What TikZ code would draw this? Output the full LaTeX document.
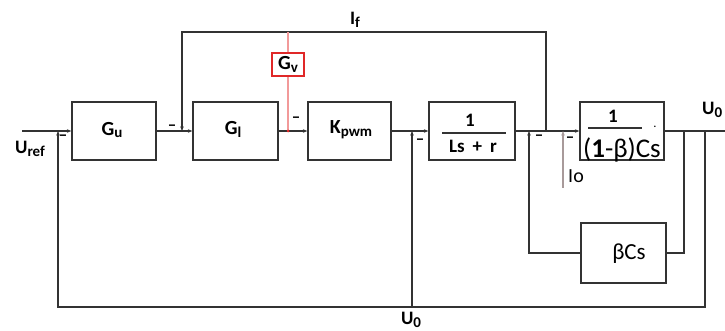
\documentclass[tikz,border=0pt]{standalone}
\usepackage{fontspec}
\setmainfont{Carlito}
\usetikzlibrary{arrows.meta}
\definecolor{linec}{HTML}{333333}
\definecolor{gvred}{HTML}{E02828}
\definecolor{gvline}{HTML}{F29A9A}
\definecolor{ioc}{HTML}{A89A9A}
\newcommand\sbx[1]{\raisebox{-0.3ex}{\fontsize{15}{15}\selectfont #1}}
\begin{document}
\begin{tikzpicture}[x=1pt,y=-1pt,
  blk/.style={draw=linec,line width=1.3pt,minimum width=84pt,minimum height=58pt,inner sep=0pt,fill=white},
  wire/.style={draw=linec,line width=1.3pt},
  arr/.style={-{Stealth[length=4.5pt,width=3.5pt]}},
  lbl/.style={font=\bfseries\fontsize{20}{20}\selectfont,inner sep=0pt},
  mlbl/.style={font=\bfseries\fontsize{19}{19}\selectfont,inner sep=0pt},
  minus/.style={font=\bfseries\fontsize{17}{17}\selectfont,inner sep=0pt}]
\useasboundingbox (0,0) rectangle (725,331);
% blocks
\node[blk] (gu) at (114,131) {};
\node[blk,minimum width=85pt] (gl) at (235.5,131) {};
\node[blk,minimum width=83pt] (kp) at (349.5,131) {};
\node[blk,minimum width=86pt] (lsr) at (472,131) {};
\node[blk] (cs) at (622,131) {};
\node[blk,minimum width=85pt,minimum height=60pt] (bcs) at (623.5,253) {};
% coordinates
\coordinate (in) at (22,131);
\coordinate (inJ) at (58,131);
\coordinate (fbL) at (58,307);
\coordinate (fbR) at (705,307);
\coordinate (j1) at (182,131);
\coordinate (ifTL) at (182,32);
\coordinate (ifTR) at (546,32);
\coordinate (j3) at (546,131);
\coordinate (gvtop) at (288,32);
\coordinate (gvj) at (288,131);
\coordinate (u0j) at (412,131);
\coordinate (u0b) at (412,307);
\coordinate (j2) at (529,131);
\coordinate (iob) at (563,188);
\coordinate (ioj) at (563,131);
\coordinate (out1) at (684,131);
\coordinate (out2) at (705,131);
\coordinate (outend) at (725,131);
% forward path
\draw[wire,arr] (in) -- (gu.west);
\draw[wire,arr] (gu.east) -- (gl.west);
\draw[wire,arr] (gl.east) -- (kp.west);
\draw[wire,arr] (kp.east) -- (lsr.west);
\draw[wire,arr] (lsr.east) -- (cs.west);
\draw[wire] (cs.east) -- (outend);
% feedbacks
\draw[wire,arr] (out2) -- (fbR) -- (fbL) -- (inJ);
\draw[wire,arr] (u0b) -- (u0j);
\draw[wire,arr] (j3) -- (ifTR) -- (ifTL) -- (j1);
\draw[wire] (out1) |- (bcs.east);
\draw[wire,arr] (bcs.west) -| (j2);
\draw[draw=ioc,line width=2pt,arr] (iob) -- (ioj);
% Gv
\draw[draw=gvline,line width=1.6pt] (gvtop) -- (gvj);
\fill[gvred] (gvj) circle (1.5pt);
\node[draw=gvred,line width=1.2pt,fill=white,minimum width=32pt,minimum height=23pt,inner sep=0pt,lbl] (gv) at (288,64.5) {G\sbx{v}};
% block texts
\node[lbl] (tgu) at (112,130) {G\sbx{u}};
\node[lbl] (tgl) at (233,129) {G\sbx{l}};
\node[lbl] (tkp) at (351,130) {K\sbx{pwm}};
\node[mlbl] (n1a) at (470,120) {1};
\draw[wire] (442,133) -- (506,133);
\node[mlbl] (lsa) at (473,146) {Ls\hspace{8pt}+\hspace{8pt}r};
\node[mlbl] (n1b) at (613,116) {1};
\draw[wire] (588,128) -- (642,128);
\node[font=\fontsize{27}{27}\selectfont,inner sep=0pt] (csd) at (622,150) {(\textbf{1}-β)Cs};
\node[inner sep=0pt,font=\bfseries] (dot) at (655,127) {.};
\node[font=\fontsize{23}{23}\selectfont,inner sep=0pt] (tbcs) at (629,254) {βCs};
% signal labels
\node[mlbl] (uref) at (30,149) {U\sbx{ref}};
\node[mlbl] (lif) at (355,20) {I\sbx{f}};
\node[mlbl] (lu0) at (411,320) {U\sbx{0}};
\node[mlbl,anchor=west] (lu0r) at (702,110) {U\sbx{0}};
\node[font=\fontsize{20}{20}\selectfont,inner sep=0pt] (lio) at (576,176) {Io};
% minus signs
\node[minus] at (63,138) {–};
\node[minus] at (172,128) {–};
\node[minus] at (296,120) {–};
\node[minus] at (420,142) {–};
\node[minus] at (539,138) {–};
\node[minus] at (570,140) {–};
\end{tikzpicture}
\end{document}
